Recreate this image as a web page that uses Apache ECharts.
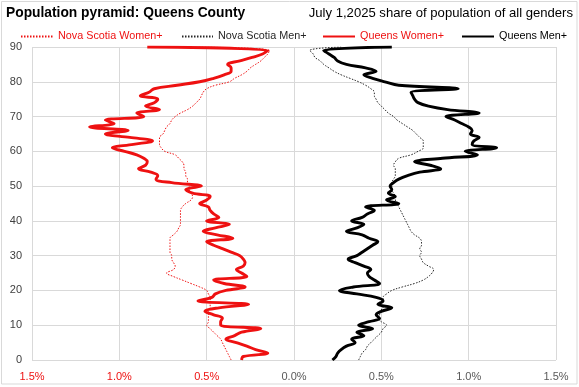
<!DOCTYPE html>
<html>
<head>
<meta charset="utf-8">
<script src="https://cdn.jsdelivr.net/npm/echarts@6/dist/echarts.min.js"></script>
<style>
html,body{margin:0;padding:0;background:#fff;}
#c{width:579px;height:387px;}
</style>
</head>
<body>
<div id="c"></div>
<script>
// Ages 0..90 (90 = 90+)
const ages = Array.from({length: 91}, (_, i) => i);

// Share of total population (%)
const nsWomen = [0.36,0.37,0.38,0.39,0.40,0.41,0.42,0.44,0.46,0.48,
  0.50,0.49,0.49,0.49,0.49,0.48,0.48,0.48,0.48,0.49,
  0.50,0.54,0.59,0.64,0.69,0.73,0.69,0.68,0.69,0.70,
  0.70,0.71,0.71,0.71,0.71,0.71,0.69,0.67,0.66,0.65,
  0.65,0.65,0.65,0.65,0.64,0.62,0.59,0.58,0.59,0.60,
  0.60,0.61,0.61,0.62,0.62,0.63,0.63,0.64,0.66,0.68,
  0.74,0.76,0.77,0.77,0.77,0.75,0.74,0.73,0.71,0.70,
  0.68,0.65,0.61,0.58,0.56,0.54,0.53,0.52,0.50,0.45,
  0.37,0.34,0.30,0.27,0.25,0.22,0.19,0.17,0.15,0.14,
  0.55];
const nsMen = [0.37,0.38,0.39,0.41,0.42,0.44,0.46,0.48,0.50,0.51,
  0.53,0.50,0.48,0.49,0.49,0.51,0.50,0.51,0.51,0.53,
  0.56,0.62,0.69,0.74,0.77,0.79,0.80,0.77,0.74,0.73,
  0.72,0.73,0.72,0.73,0.73,0.72,0.69,0.67,0.66,0.65,
  0.64,0.63,0.62,0.61,0.60,0.59,0.58,0.58,0.57,0.56,
  0.56,0.56,0.57,0.58,0.58,0.58,0.57,0.58,0.60,0.67,
  0.71,0.74,0.74,0.74,0.72,0.70,0.68,0.65,0.62,0.59,
  0.57,0.54,0.52,0.50,0.48,0.47,0.46,0.46,0.44,0.41,
  0.37,0.32,0.27,0.23,0.20,0.17,0.15,0.12,0.11,0.09,
  0.27];
const queensWomen = [0.30,0.29,0.15,0.22,0.27,0.33,0.39,0.34,0.30,0.19,
  0.42,0.42,0.41,0.46,0.51,0.43,0.26,0.55,0.47,0.45,
  0.39,0.28,0.40,0.46,0.27,0.30,0.33,0.29,0.28,0.29,
  0.31,0.36,0.41,0.46,0.50,0.35,0.44,0.52,0.45,0.37,
  0.50,0.43,0.46,0.48,0.49,0.54,0.50,0.48,0.58,0.62,
  0.53,0.70,0.79,0.78,0.82,0.89,0.85,0.84,0.86,0.90,
  0.97,1.04,0.92,0.81,0.94,1.08,0.95,1.17,1.03,1.08,
  0.86,0.90,0.77,0.85,0.80,0.78,0.88,0.83,0.80,0.67,
  0.54,0.46,0.40,0.36,0.36,0.38,0.31,0.24,0.18,0.15,
  0.84];
const queensMen = [0.22,0.24,0.25,0.27,0.30,0.35,0.33,0.40,0.36,0.45,
  0.37,0.43,0.49,0.47,0.50,0.56,0.48,0.51,0.47,0.36,
  0.26,0.34,0.49,0.46,0.43,0.42,0.44,0.40,0.35,0.31,
  0.36,0.39,0.42,0.45,0.48,0.43,0.39,0.30,0.36,0.40,
  0.33,0.39,0.42,0.46,0.41,0.60,0.53,0.58,0.54,0.56,
  0.55,0.57,0.60,0.65,0.72,0.84,0.78,0.69,0.85,1.05,
  0.98,1.16,1.02,1.03,1.06,1.01,1.02,1.00,0.96,0.92,
  0.87,1.06,0.88,0.77,0.71,0.69,0.68,0.67,0.94,0.60,
  0.52,0.45,0.40,0.47,0.41,0.30,0.25,0.23,0.20,0.17,
  0.56];

const xTicks = [-1.5, -1.0, -0.5, 0, 0.5, 1.0, 1.5];
const yTicks = [0, 10, 20, 30, 40, 50, 60, 70, 80, 90];

const titleText = 'Population pyramid: Queens County';
const subtitleText = 'July 1,2025 share of population of all genders';
const names = ['Nova Scotia Women+', 'Nova Scotia Men+', 'Queens Women+', 'Queens Men+'];

const RED = '#ee1111';
const FONT = 'Liberation Sans, Arial, sans-serif';
const toPairs = (vals, sign) => vals.map((v, i) => [sign * v, ages[i]]);

const chart = echarts.init(document.getElementById('c'), null, {renderer: 'canvas'});
const legendPos = [20, 181, 322, 461];
const legendIconW = [32, 31, 32, 32];
const legendColors = [RED, '#262626', RED, '#000'];

chart.setOption({
  animation: false,
  backgroundColor: '#fff',
  textStyle: {fontFamily: FONT},
  title: [
    {text: titleText, left: 6, top: 6, padding: 0,
     textStyle: {fontFamily: FONT, fontWeight: 'bold', fontSize: 13.8, color: '#000'}},
    {text: subtitleText, right: 6, top: 7, padding: 0,
     textStyle: {fontFamily: FONT, fontWeight: 'normal', fontSize: 13.1, color: '#000'}}
  ],
  legend: names.map((n, i) => ({
    left: legendPos[i], top: 31, padding: 0, itemWidth: legendIconW[i], itemHeight: 12, itemGap: 4,
    data: [{name: n, textStyle: {color: legendColors[i]}}],
    itemStyle: {opacity: 0},
    textStyle: {fontFamily: FONT, fontSize: 10.8},
    selectedMode: false
  })),
  grid: {left: 32, right: 23, top: 47, bottom: 27},
  xAxis: {
    type: 'value', min: xTicks[0], max: xTicks[xTicks.length - 1], interval: 0.5,
    axisLine: {show: false}, axisTick: {show: false},
    splitLine: {show: true, lineStyle: {color: '#d9d9d9', width: 1}},
    axisLabel: {
      margin: 11, fontSize: 11, fontFamily: FONT,
      formatter: v => v < -1e-9 ? '{r|' + Math.abs(v).toFixed(1) + '%}' : '{g|' + Math.abs(v).toFixed(1) + '%}',
      rich: {r: {color: RED, fontSize: 11, fontFamily: FONT},
             g: {color: '#595959', fontSize: 11, fontFamily: FONT}}
    }
  },
  yAxis: {
    type: 'value', min: yTicks[0], max: yTicks[yTicks.length - 1], interval: 10,
    axisLine: {show: false}, axisTick: {show: false},
    splitLine: {show: true, lineStyle: {color: '#d9d9d9', width: 1}},
    axisLabel: {margin: 10, fontSize: 11, color: '#404040', fontFamily: FONT}
  },
  graphic: [{
    type: 'rect', shape: {x: 1.5, y: 1.5, width: 575.5, height: 382.5},
    style: {fill: 'none', stroke: '#d9d9d9', lineWidth: 1}, silent: true, z: -1
  }],
  series: [
    {name: names[0], type: 'line', data: toPairs(nsWomen, -1), smooth: 0.4, symbol: 'none',
     lineStyle: {color: RED, width: 1, type: [1.5, 1.5]}, itemStyle: {color: RED}, z: 2},
    {name: names[1], type: 'line', data: toPairs(nsMen, 1), smooth: 0.4, symbol: 'none',
     lineStyle: {color: '#262626', width: 1, type: [1.5, 1.5]}, itemStyle: {color: '#262626'}, z: 2},
    {name: names[2], type: 'line', data: toPairs(queensWomen, -1), smooth: 0.4, symbol: 'none',
     lineStyle: {color: RED, width: 2.9}, itemStyle: {color: RED}, z: 3},
    {name: names[3], type: 'line', data: toPairs(queensMen, 1), smooth: 0.4, symbol: 'none',
     lineStyle: {color: '#000', width: 2.9}, itemStyle: {color: '#000'}, z: 3}
  ]
});
</script>
</body>
</html>
